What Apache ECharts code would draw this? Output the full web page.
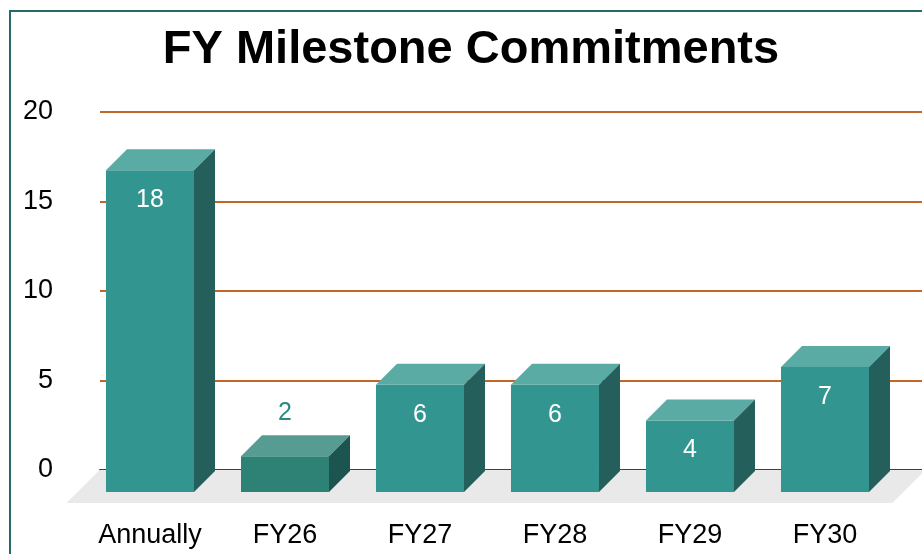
<!DOCTYPE html>
<html>
<head>
<meta charset="utf-8">
<script src="https://cdn.jsdelivr.net/npm/echarts@6/dist/echarts.min.js"></script>
<style>
  html, body { margin: 0; padding: 0; background: #fff; }
  #main { width: 922px; height: 554px; }
</style>
</head>
<body>
<div id="main"></div>
<script>
// data
const categories = ['Annually', 'FY26', 'FY27', 'FY28', 'FY29', 'FY30']
const commitments = [18, 2, 6, 6, 4, 7]
const yMin = 0
const yMax = 20
const yStep = 5

// box colours (front / top / side)
const shadeDefault = { front: '#33958F', top: '#5BABA5', side: '#245F5C' }
const shadeOverride = {
  'FY26': { front: '#2D8175', top: '#579C92', side: '#1C5550' }
}

const DEPTH = 21
const FONT = '"Liberation Sans", Arial, sans-serif'

const chart = echarts.init(document.getElementById('main'), null, { renderer: 'canvas' })

function renderFloor(params, api) {
  const cs = params.coordSys
  const yF = cs.y + cs.height + 11
  const xl = cs.x - 16
  const xr = cs.x + cs.width
  const dd = 33
  return {
    type: 'polygon',
    shape: { points: [[xl, yF], [xr, yF], [xr + dd, yF - dd], [xl + dd, yF - dd]] },
    style: { fill: '#E9E9E9' }
  }
}

function renderBar(params, api) {
  const idx = api.value(0)
  const val = api.value(1)
  const top = api.coord([idx, val])
  const base = api.coord([idx, 0])
  const w = api.size([1, 0])[0] * 0.652
  const x0 = top[0] - w / 2
  const x1 = top[0] + w / 2
  const yT = top[1]
  const yB = base[1]
  const d = DEPTH
  const shade = shadeOverride[categories[idx]] || shadeDefault
  const inside = yB - yT > 50

  return {
    type: 'group',
    children: [
      {
        type: 'rect',
        shape: { x: x0, y: yT, width: w, height: yB - yT },
        style: { fill: shade.front }
      },
      {
        type: 'polygon',
        shape: { points: [[x0, yT], [x1, yT], [x1 + d, yT - d], [x0 + d, yT - d]] },
        style: { fill: shade.top }
      },
      {
        type: 'polygon',
        shape: { points: [[x1, yT], [x1 + d, yT - d], [x1 + d, yB - d], [x1, yB]] },
        style: { fill: shade.side }
      },
      {
        type: 'text',
        style: {
          text: String(val),
          x: top[0],
          y: inside ? yT + 30 : yT - d - 22,
          align: 'center',
          verticalAlign: 'middle',
          fill: inside ? '#FFFFFF' : '#2E8A80',
          fontSize: 25,
          fontFamily: FONT
        }
      }
    ]
  }
}

const option = {
  animation: false,
  backgroundColor: '#FFFFFF',
  title: {
    text: 'FY Milestone Commitments',
    left: 466,
    top: 22,
    textAlign: 'center',
    textStyle: { fontSize: 47, fontWeight: 'bold', color: '#000', fontFamily: FONT }
  },
  // outer chart-area border (top and left edges show)
  graphic: [
    {
      type: 'polyline',
      shape: { points: [[10, 560], [10, 11], [930, 11]] },
      style: { stroke: '#236B66', lineWidth: 2, fill: null },
      z: 10
    }
  ],
  grid: [
    // back wall (gridlines, y labels)
    { left: 100, right: -30, top: 112, bottom: 84 },
    // front plane (boxes, category labels)
    { left: 82.5, right: 29.5, top: 134.5, bottom: 62 }
  ],
  xAxis: [
    {
      gridIndex: 0,
      type: 'value',
      min: 0,
      max: 1,
      axisLine: { show: true, onZero: false, lineStyle: { color: '#404040', width: 2 } },
      axisTick: { show: false },
      axisLabel: { show: false },
      splitLine: { show: false }
    },
    {
      gridIndex: 1,
      type: 'category',
      data: categories,
      axisLine: { show: false },
      axisTick: { show: false },
      axisLabel: { margin: 30, fontSize: 27, color: '#000', fontFamily: FONT }
    }
  ],
  yAxis: [
    {
      gridIndex: 0,
      type: 'value',
      min: yMin,
      max: yMax,
      interval: yStep,
      axisLine: { show: false },
      axisTick: { show: false },
      axisLabel: {
        margin: 47, fontSize: 27, color: '#000', fontFamily: FONT,
        verticalAlign: 'middle', lineHeight: 27, padding: [8, 0, 0, 0]
      },
      splitLine: { showMinLine: false, lineStyle: { color: '#C0682A', width: 2 } }
    },
    {
      gridIndex: 1,
      type: 'value',
      min: yMin,
      max: yMax,
      show: false
    }
  ],
  series: [
    {
      type: 'custom',
      name: 'floor',
      xAxisIndex: 1,
      yAxisIndex: 1,
      clip: false,
      z: 1,
      renderItem: renderFloor,
      data: [[0, 0]],
      silent: true
    },
    {
      type: 'custom',
      name: 'Commitments',
      xAxisIndex: 1,
      yAxisIndex: 1,
      clip: false,
      z: 3,
      renderItem: renderBar,
      encode: { x: 0, y: 1 },
      data: categories.map((c, i) => [i, commitments[i]])
    }
  ]
}

chart.setOption(option)
</script>
</body>
</html>
